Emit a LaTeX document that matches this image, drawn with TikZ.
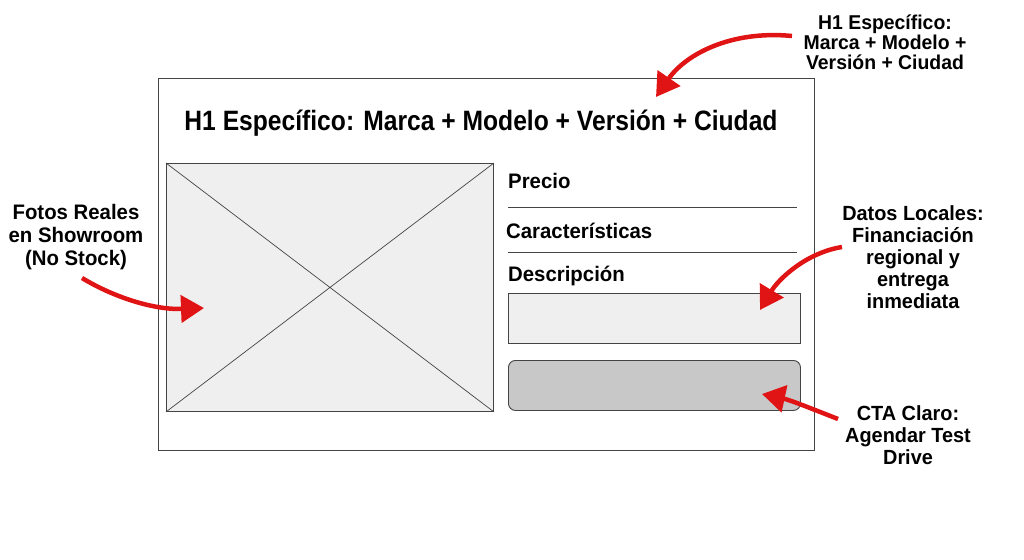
\documentclass[tikz,border=0pt]{standalone}
\usepackage{fontspec}
\setmainfont{Liberation Sans}[FakeStretch=0.97]
\newfontfamily\titlefont{Liberation Sans}[FakeStretch=0.88]
\usetikzlibrary{arrows.meta}
\definecolor{redarrow}{HTML}{E01414}
\definecolor{lightfill}{HTML}{EFEFEF}
\definecolor{ctafill}{HTML}{C8C8C8}
\definecolor{frameline}{HTML}{444444}
\begin{document}
\begin{tikzpicture}[x=1pt,y=-1pt,
  box/.style={draw=frameline,line width=0.9pt},
  lbl/.style={font=\bfseries\fontsize{21}{22}\selectfont,anchor=west,inner sep=0pt},
  note/.style={font=\bfseries\fontsize{20.5}{22}\selectfont,align=center,inner sep=0pt},
  rarrow/.style={draw=redarrow,line width=4.5pt,-{Triangle[length=23pt,width=27pt]}}]
\useasboundingbox (0,0) rectangle (1024,559);
% outer frame
\node[box,minimum width=656pt,minimum height=372pt,inner sep=0pt,anchor=north west] (frame) at (158,78) {};
\node[font=\titlefont\bfseries\fontsize{28}{30}\selectfont,inner sep=0pt] (title) at (481,123) {H1 Específico: Marca + Modelo + Versión + Ciudad};
% image placeholder
\node[box,fill=lightfill,minimum width=327pt,minimum height=248pt,inner sep=0pt,anchor=north west] (img) at (166,163) {};
\draw[frameline,line width=0.7pt] (img.north west) -- (img.south east) (img.north east) -- (img.south west);
% right column
\node[lbl] (precio) at (508,181) {Precio};
\coordinate (l1a) at (508,207); \coordinate (l1b) at (797,207);
\draw[frameline,line width=0.7pt] (l1a) -- (l1b);
\node[lbl] (carac) at (506,231) {Características};
\coordinate (l2a) at (508,252); \coordinate (l2b) at (797,252);
\draw[frameline,line width=0.7pt] (l2a) -- (l2b);
\node[lbl] (desc) at (508,276) {Descripción};
\node[box,fill=lightfill,minimum width=292pt,minimum height=50pt,inner sep=0pt,anchor=north west] (descbox) at (508,293) {};
\node[box,fill=ctafill,rounded corners=7pt,minimum width=292pt,minimum height=50pt,inner sep=0pt,anchor=north west] (cta) at (508,360) {};
% annotations
\node[note,font=\bfseries\fontsize{20}{20}\selectfont] (n1) at (885,42) {H1 Específico:\\Marca + Modelo +\\Versión + Ciudad};
\node[note,font=\bfseries\fontsize{21}{23}\selectfont] (n2) at (76,237) {Fotos Reales\\en Showroom\\(No Stock)};
\node[note] (n3) at (913,257) {Datos Locales:\\Financiación\\regional y\\entrega\\inmediata};
\node[note] (n4) at (908,435) {CTA Claro:\\Agendar Test\\Drive};
% arrows
\coordinate (a1s) at (792,36); \coordinate (a1e) at (656,97);
\draw[rarrow] (a1s) .. controls (730,30) and (685,55) .. (a1e);
\coordinate (a2s) at (82,278); \coordinate (a2e) at (204,308);
\draw[rarrow] (a2s) .. controls (115,298) and (155,310) .. (a2e);
\coordinate (a3s) at (842,247); \coordinate (a3e) at (760,310);
\draw[rarrow] (a3s) .. controls (805,253) and (778,280) .. (a3e);
\coordinate (a4s) at (838,419); \coordinate (a4e) at (762,394);
\draw[rarrow] (a4s) .. controls (810,408) and (790,400) .. (a4e);
\end{tikzpicture}
\end{document}
